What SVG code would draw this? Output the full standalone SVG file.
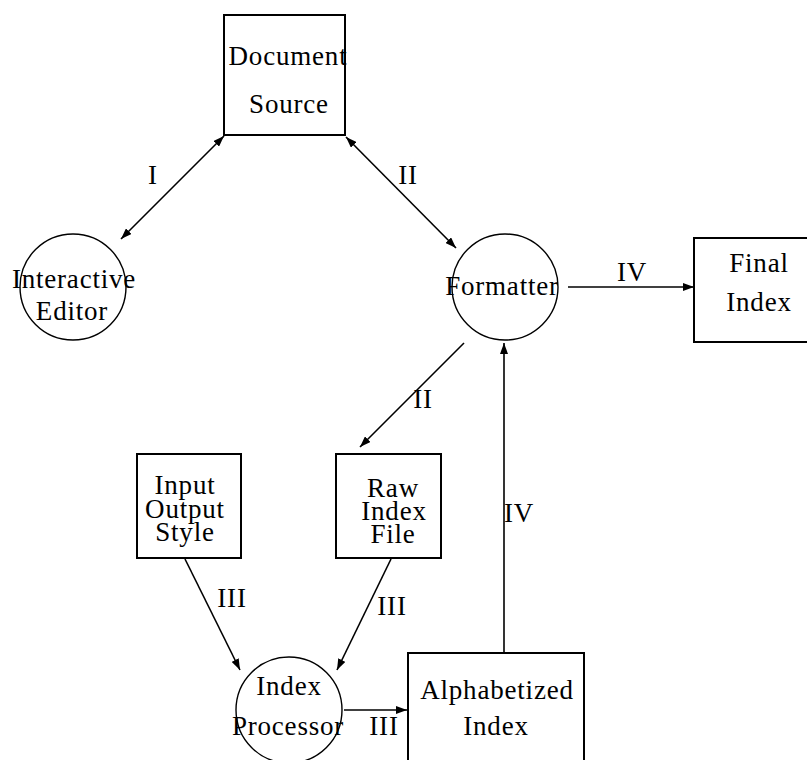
<svg xmlns="http://www.w3.org/2000/svg" width="807" height="760" viewBox="0 0 807 760">
<defs>
<marker id="ah" markerUnits="userSpaceOnUse" markerWidth="11" markerHeight="8" refX="11" refY="4" orient="auto-start-reverse">
<path d="M0,0 L11,4 L0,8 z" fill="#000"/>
</marker>
</defs>
<style>
text{font-family:"Liberation Serif","Times New Roman",serif;font-size:27px;fill:#000;text-anchor:middle;letter-spacing:0.8px}
.box{fill:none;stroke:#000;stroke-width:2}
.circ{fill:none;stroke:#000;stroke-width:1.4}
.edge{fill:none;stroke:#000;stroke-width:1.6}
</style>
<rect width="807" height="760" fill="#fff"/>
<g id="connectors">
<line class="edge" x1="121" y1="239" x2="224" y2="136" marker-start="url(#ah)" marker-end="url(#ah)"/>
<line class="edge" x1="346" y1="137" x2="456" y2="248" marker-start="url(#ah)" marker-end="url(#ah)"/>
<line class="edge" x1="568" y1="287" x2="694" y2="287" marker-end="url(#ah)"/>
<line class="edge" x1="464" y1="343" x2="360" y2="447" marker-end="url(#ah)"/>
<line class="edge" x1="504" y1="653" x2="504" y2="343" marker-end="url(#ah)"/>
<line class="edge" x1="185" y1="559" x2="240" y2="670" marker-end="url(#ah)"/>
<line class="edge" x1="391" y1="559" x2="337" y2="670" marker-end="url(#ah)"/>
<line class="edge" x1="344" y1="710" x2="407" y2="710" marker-end="url(#ah)"/>
<text x="153" y="184">I</text>
<text x="408" y="184">II</text>
<text x="632" y="281">IV</text>
<text x="423" y="408">II</text>
<text x="519" y="522">IV</text>
<text x="232" y="607">III</text>
<text x="392" y="615">III</text>
<text x="384" y="735">III</text>
</g>
<g id="document-source">
<rect class="box" x="224" y="15" width="121" height="120"/>
<text x="288" y="65">Document</text>
<text x="289" y="113">Source</text>
</g>
<g id="interactive-editor">
<circle class="circ" cx="73" cy="287" r="53"/>
<text x="74" y="288">Interactive</text>
<text x="72" y="320">Editor</text>
</g>
<g id="formatter">
<circle class="circ" cx="505" cy="287" r="53"/>
<text x="502" y="295">Formatter</text>
</g>
<g id="final-index">
<rect class="box" x="694" y="238" width="130" height="104"/>
<text x="759" y="272">Final</text>
<text x="759" y="311">Index</text>
</g>
<g id="input-output-style">
<rect class="box" x="137" y="454" width="104" height="104"/>
<text x="185" y="494">Input</text>
<text x="185" y="518">Output</text>
<text x="185" y="541">Style</text>
</g>
<g id="raw-index-file">
<rect class="box" x="336" y="454" width="105" height="104"/>
<text x="393" y="497">Raw</text>
<text x="394" y="520">Index</text>
<text x="393" y="543">File</text>
</g>
<g id="index-processor">
<circle class="circ" cx="289" cy="710" r="53"/>
<text x="289" y="695">Index</text>
<text x="288" y="735">Processor</text>
</g>
<g id="alphabetized-index">
<rect class="box" x="408" y="653" width="176" height="120"/>
<text x="497" y="699">Alphabetized</text>
<text x="496" y="735">Index</text>
</g>
</svg>
